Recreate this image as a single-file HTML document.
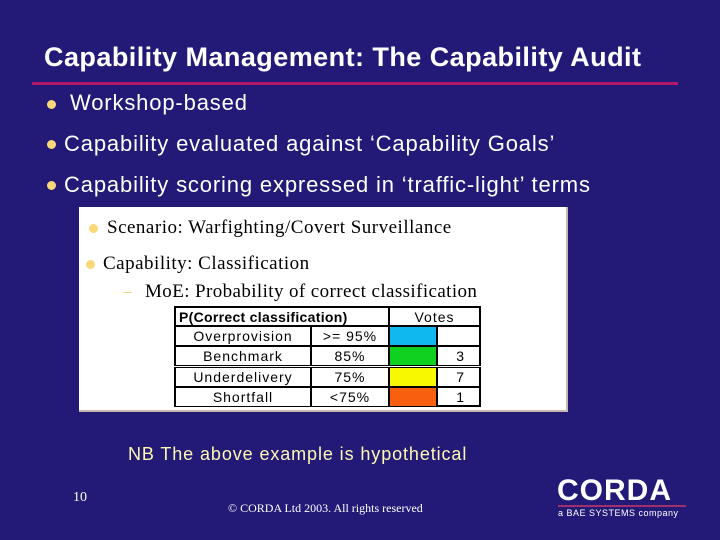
<!DOCTYPE html>
<html><head><meta charset="utf-8">
<style>
body{margin:0;}
#slide{position:relative;width:720px;height:540px;background:#231a78;overflow:hidden;font-family:"Liberation Sans",sans-serif;color:#fff;}
.abs{position:absolute;white-space:nowrap;}
.bul{position:absolute;width:9px;height:9px;border-radius:50%;background:#f8d878;}
#box{position:absolute;left:79px;top:207px;width:487px;height:203px;background:#fff;border-right:2px solid #c8b8b0;border-bottom:2px solid #c8b8b0;}
.serif{font-family:"Liberation Serif",serif;color:#000;}
.big{font-size:22px;letter-spacing:0.85px;}
.cell{position:absolute;box-sizing:border-box;border:1px solid #000;font-size:14px;letter-spacing:1px;color:#000;text-align:center;line-height:19px;}
</style></head><body>
<div id="slide">
<div class="abs" style="left:44px;top:42px;font-size:27px;font-weight:bold;letter-spacing:0.45px;">Capability Management: The Capability Audit</div>
<div class="abs" style="left:32px;top:82px;width:646px;height:3px;background:#b3186c;"></div>

<div class="bul" style="left:47px;top:100px;"></div>
<div class="abs big" style="left:70px;top:90px;">Workshop-based</div>
<div class="bul" style="left:47px;top:140px;"></div>
<div class="abs big" style="left:64px;top:131px;">Capability evaluated against ‘Capability Goals’</div>
<div class="bul" style="left:47px;top:181px;"></div>
<div class="abs big" style="left:64px;top:172px;">Capability scoring expressed in ‘traffic-light’ terms</div>

<div id="box">
  <div class="bul" style="left:10px;top:17px;"></div>
  <div class="abs serif" style="left:28px;top:10px;font-size:19px;letter-spacing:0.5px;">Scenario: Warfighting/Covert Surveillance</div>
  <div class="bul" style="left:7px;top:53px;"></div>
  <div class="abs serif" style="left:24px;top:46px;font-size:19px;letter-spacing:0.5px;">Capability: Classification</div>
  <div class="abs" style="left:44px;top:85px;width:9px;height:1px;background:#f8d878;"></div>
  <div class="abs serif" style="left:66px;top:74px;font-size:19px;letter-spacing:0.4px;">MoE: Probability of correct classification</div>
</div>

<div id="tbl" style="position:absolute;left:174px;top:306px;width:307px;height:101px;background:#fff;"></div>

<div class="abs" style="left:128px;top:444px;font-size:18px;letter-spacing:0.9px;color:#fff8b0;">NB The above example is hypothetical</div>
<div class="abs" style="left:73px;top:490px;font-size:14px;font-family:'Liberation Serif',serif;">10</div>
<div class="abs" style="left:228px;top:501px;font-size:12px;font-family:'Liberation Serif',serif;">© CORDA Ltd 2003. All rights reserved</div>
<div class="abs" style="left:557px;top:474px;font-size:30px;font-weight:bold;letter-spacing:1px;">CORDA</div>
<div class="abs" style="left:558px;top:505px;width:128px;height:2px;background:#a0306c;"></div>
<div class="abs" style="left:558px;top:508px;font-size:9px;letter-spacing:0.5px;">a BAE SYSTEMS company</div>
</div>
<script>
const labels=["Overprovision","Benchmark","Underdelivery","Shortfall"];
const thresholds=[">= 95%","85%","75%","<75%"];
const colors=["#10b8f0","#10d020","#f8f800","#f86010"];
const votes=["","3","7","1"];
const tbl=document.getElementById('tbl');
function cell(l,t,w,h,txt,extra){
  const d=document.createElement('div');
  d.className='cell';
  d.style.left=l+'px';d.style.top=t+'px';d.style.width=w+'px';d.style.height=h+'px';
  d.textContent=txt;
  if(extra)Object.assign(d.style,extra);
  tbl.appendChild(d);return d;
}
const cols=[0,137,215,263,307];
let h=cell(0,0,cols[2],20,"P(Correct classification)",{fontWeight:'bold',letterSpacing:'0.3px',textAlign:'left',paddingLeft:'3px',borderWidth:'2px 1px 1px 2px'});


h=cell(cols[2],0,cols[4]-cols[2],20,"Votes",{borderWidth:'2px 2px 1px 1px'});


for(let i=0;i<labels.length;i++){
  const t=20+i*20.25;
  let c=cell(0,t,cols[1],20,labels[i],{borderLeftWidth:'2px'});
  
  
  c=cell(cols[1],t,cols[2]-cols[1],20,thresholds[i]);
  
  
  c=cell(cols[2],t,cols[3]-cols[2],20,"",{background:colors[i]});
  
  
  c=cell(cols[3],t,cols[4]-cols[3],20,votes[i],{borderRightWidth:'2px',textAlign:'right',paddingRight:'14px'});
  
  
}
tbl.lastChild.style.borderBottomWidth='2px';
</script>
</body></html>
